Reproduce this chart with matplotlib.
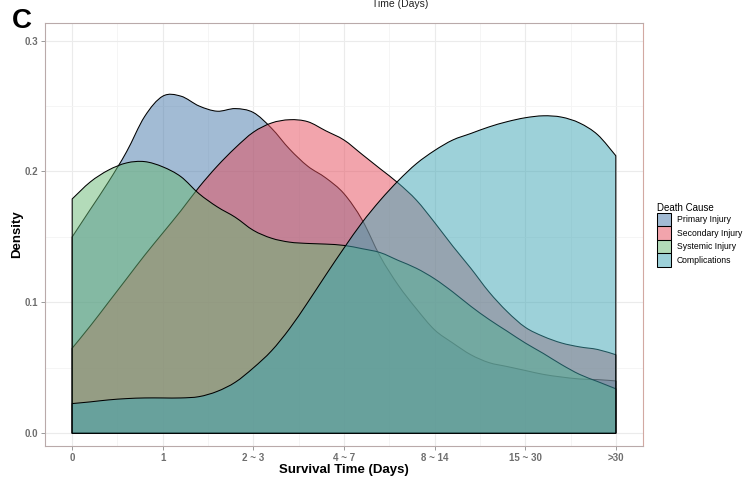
import matplotlib
matplotlib.use("Agg")
import matplotlib.pyplot as plt
import matplotlib.colors as mcolors
from matplotlib.patches import Patch, PathPatch
from matplotlib.path import Path
from matplotlib.ticker import MultipleLocator

plt.rcParams['font.family'] = ['Liberation Sans', 'DejaVu Sans']

# Survival-time categories (plotted at positions 0..6)
tick_labels = ["0", "1", "2 ~ 3", "4 ~ 7", "8 ~ 14", "15 ~ 30", ">30"]

# Positions along the category axis where each density curve is sampled
x_pos = [0.0, 0.2, 0.4, 0.6, 0.8, 1.0, 1.2, 1.4, 1.6, 1.8, 2.0, 2.2, 2.4, 2.6,
         2.8, 3.0, 3.2, 3.4, 3.6, 3.8, 4.0, 4.2, 4.4, 4.6, 4.8, 5.0, 5.2, 5.4,
         5.6, 5.8, 6.0]

primary_injury = [0.150, 0.171, 0.192, 0.215, 0.242, 0.2575, 0.2575, 0.250,
                  0.246, 0.248, 0.245, 0.233, 0.217, 0.204, 0.195, 0.183,
                  0.163, 0.135, 0.113, 0.095, 0.079, 0.069, 0.060, 0.054,
                  0.051, 0.048, 0.045, 0.043, 0.0415, 0.041, 0.040]

secondary_injury = [0.065, 0.082, 0.100, 0.118, 0.136, 0.153, 0.170, 0.188,
                    0.204, 0.218, 0.230, 0.237, 0.2395, 0.238, 0.231, 0.224,
                    0.213, 0.202, 0.191, 0.178, 0.161, 0.143, 0.126, 0.108,
                    0.093, 0.081, 0.074, 0.069, 0.066, 0.064, 0.060]

systemic_injury = [0.179, 0.192, 0.201, 0.2065, 0.2075, 0.2035, 0.196, 0.183,
                   0.173, 0.165, 0.155, 0.149, 0.146, 0.145, 0.1445, 0.1435,
                   0.141, 0.138, 0.132, 0.126, 0.118, 0.108, 0.097, 0.087,
                   0.078, 0.069, 0.061, 0.0525, 0.045, 0.0395, 0.034]

complications = [0.0227, 0.024, 0.0255, 0.0265, 0.027, 0.027, 0.027, 0.028,
                 0.032, 0.039, 0.050, 0.063, 0.080, 0.100, 0.121, 0.1415,
                 0.161, 0.178, 0.193, 0.206, 0.216, 0.224, 0.229, 0.234,
                 0.238, 0.241, 0.2425, 0.2415, 0.237, 0.228, 0.212]

causes = ["Primary Injury", "Secondary Injury", "Systemic Injury", "Complications"]
series = [primary_injury, secondary_injury, systemic_injury, complications]
colors = ["#4678AA", "#E64B5A", "#68B874", "#3CA5B4"]
fill_alpha = 0.5


def density_area(xs, ys):
    """Closed outline of a density area: baseline, left edge, smooth top
    (Catmull-Rom rendered as cubic Bezier segments), right edge, baseline."""
    verts = [(xs[0], 0.0), (xs[0], ys[0])]
    codes = [Path.MOVETO, Path.LINETO]
    n = len(xs)
    for i in range(n - 1):
        x0, y0 = xs[max(i - 1, 0)], ys[max(i - 1, 0)]
        x1, y1 = xs[i], ys[i]
        x2, y2 = xs[i + 1], ys[i + 1]
        x3, y3 = xs[min(i + 2, n - 1)], ys[min(i + 2, n - 1)]
        c1 = (x1 + (x2 - x0) / 6.0, y1 + (y2 - y0) / 6.0)
        c2 = (x2 - (x3 - x1) / 6.0, y2 - (y3 - y1) / 6.0)
        verts += [c1, c2, (x2, y2)]
        codes += [Path.CURVE4] * 3
    verts += [(xs[-1], 0.0), (xs[0], 0.0)]
    codes += [Path.LINETO, Path.CLOSEPOLY]
    return Path(verts, codes)


W, H = 743, 497
top_px, bottom_px = 22.7, 446.0
fig = plt.figure(figsize=(W / 100, H / 100), dpi=100)
ax = fig.add_axes([45 / W, 1 - bottom_px / H, 598 / W, (bottom_px - top_px) / H])

for dens, col in zip(series, colors):
    patch = PathPatch(density_area(x_pos, dens),
                      facecolor=mcolors.to_rgba(col, fill_alpha),
                      edgecolor="black", linewidth=0.75, zorder=3)
    ax.add_patch(patch)

ax.set_xlim(-0.3, 6.3)
ax.set_ylim(-0.0097, 0.3136)
ax.set_xticks(range(len(tick_labels)))
ax.set_xticklabels(tick_labels)
ax.set_yticks([0.0, 0.1, 0.2, 0.3])
ax.set_yticklabels(["0.0", "0.1", "0.2", "0.3"])
ax.xaxis.set_minor_locator(MultipleLocator(0.5))
ax.yaxis.set_minor_locator(MultipleLocator(0.05))

ax.grid(which="major", color="#EBEBEB", linewidth=0.8, zorder=0)
ax.grid(which="minor", color="#F4F4F4", linewidth=0.6, zorder=0)
ax.set_axisbelow(True)

for side, sp in ax.spines.items():
    sp.set_color("#B9AAAA")
    sp.set_linewidth(0.8)
ax.spines["right"].set_color("#D2A8A2")

ax.tick_params(which="major", length=3, width=0.6, color="#8A8A8A",
               labelsize=7, labelcolor="#6E6E6E", pad=2)
ax.tick_params(which="minor", length=0)
for lab in ax.get_xticklabels() + ax.get_yticklabels():
    lab.set_fontweight("bold")

ax.set_xlabel("Survival Time (Days)", fontsize=9.5, fontweight="bold",
              labelpad=0.5)
ax.set_ylabel("Density", fontsize=9.5, fontweight="bold", labelpad=1)

fig.text(400 / W, 1 + 1 / H, "Time (Days)", ha="center", va="top",
         fontsize=7.5, color="#222222")
fig.text(12 / W, 1 - 8 / H, "C", ha="left", va="top", fontsize=20,
         fontweight="bold")

handles = [Patch(facecolor=mcolors.to_rgba(c, fill_alpha),
                 edgecolor="black", linewidth=0.75) for c in colors]
leg = fig.legend(handles, causes, loc="upper left",
                 bbox_to_anchor=(657 / W, 1 - 203 / H), frameon=False,
                 fontsize=6.2, title="Death Cause", title_fontsize=7,
                 handlelength=1.6, handleheight=2.03, labelspacing=0.0,
                 handletextpad=0.7, borderpad=0.0, borderaxespad=0.0,
                 alignment="left")

fig.savefig("out.png", dpi=100)
